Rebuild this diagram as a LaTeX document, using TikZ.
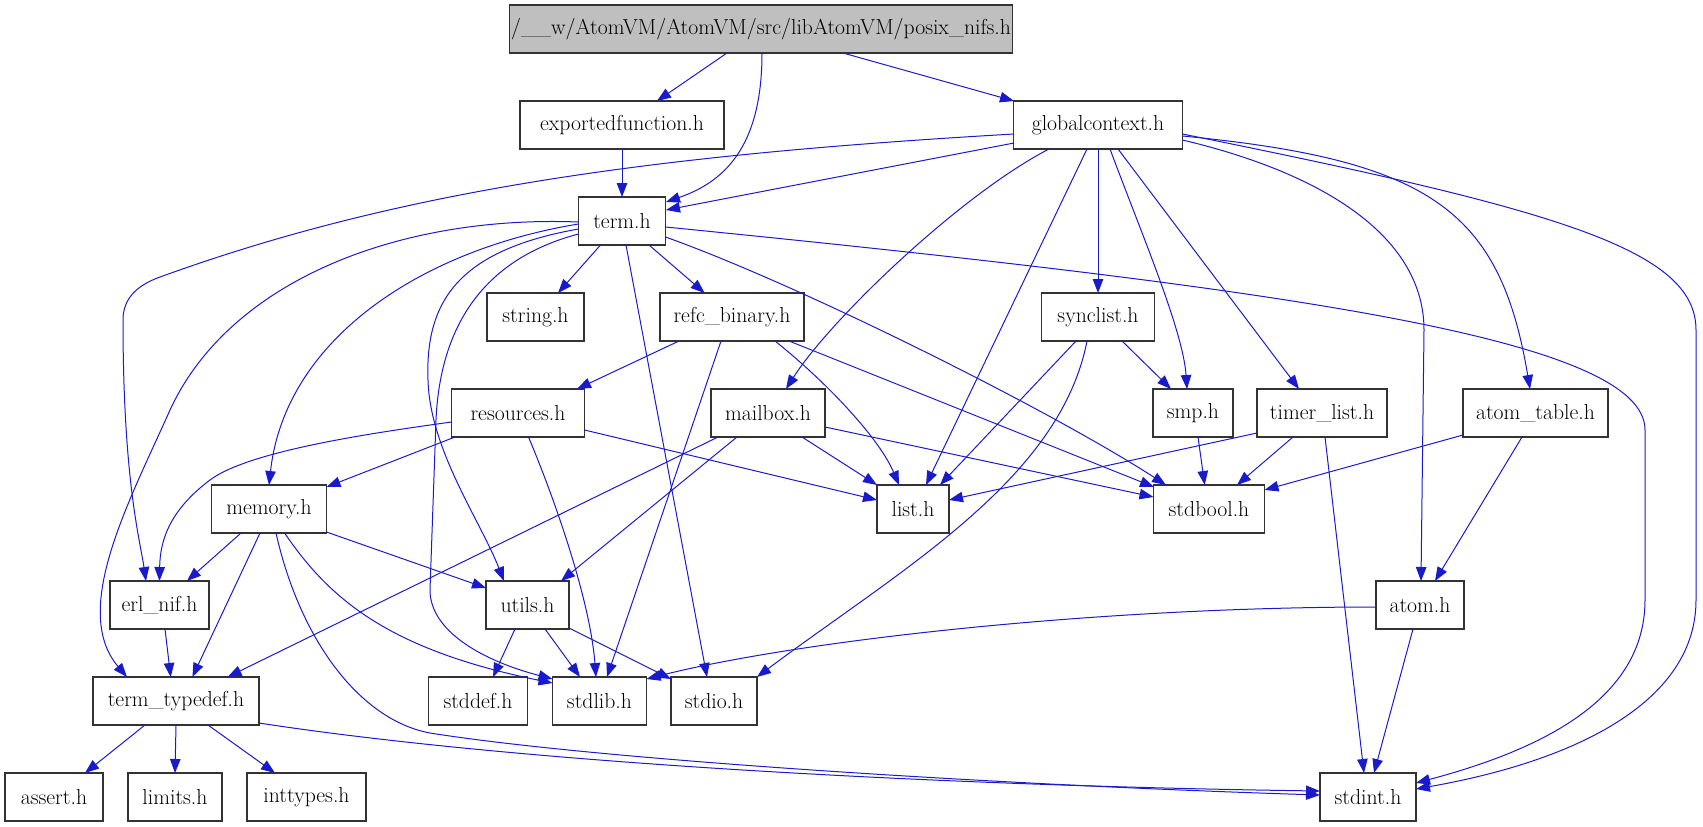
\documentclass[tikz,border=0pt]{standalone}
\usetikzlibrary{arrows.meta,calc}
\definecolor{edgeblue}{RGB}{26,26,205}
\definecolor{topgray}{RGB}{191,191,191}
\begin{document}
\begin{tikzpicture}[x=1pt,y=-1pt,
  box/.style={draw=black!80,line width=1.1pt,fill=white,minimum height=48pt,inner sep=0pt,anchor=center,font=\fontsize{21.7}{26}\selectfont},
  dep/.style={draw=edgeblue,line width=1pt,-{Triangle[length=14pt,width=10.5pt]}}]
\useasboundingbox (0,0) rectangle (1703,827);
% nodes
\node[box,fill=topgray,minimum width=503pt] (posix) at (761,29) {/\_\_w/AtomVM/AtomVM/src/libAtomVM/posix\_nifs.h};
\node[box,minimum width=204pt] (expf) at (622,125) {exportedfunction.h};
\node[box,minimum width=169pt] (gctx) at (1098,125) {globalcontext.h};
\node[box,minimum width=87pt] (term) at (622,221) {term.h};
\node[box,minimum width=97pt] (strh) at (535.5,317) {string.h};
\node[box,minimum width=144pt] (refc) at (732,317) {refc\_binary.h};
\node[box,minimum width=113pt] (sync) at (1098,317) {synclist.h};
\node[box,minimum width=133pt] (res) at (518,413) {resources.h};
\node[box,minimum width=114pt] (mbox) at (768,413) {mailbox.h};
\node[box,minimum width=80pt] (smp) at (1193,413) {smp.h};
\node[box,minimum width=130pt] (timer) at (1322,413) {timer\_list.h};
\node[box,minimum width=145pt] (atab) at (1535.5,413) {atom\_table.h};
\node[box,minimum width=115pt] (mem) at (269,509) {memory.h};
\node[box,minimum width=72pt] (list) at (913,509) {list.h};
\node[box,minimum width=111pt] (sbool) at (1209,509) {stdbool.h};
\node[box,minimum width=99pt] (erlnif) at (159.5,605) {erl\_nif.h};
\node[box,minimum width=83pt] (utils) at (527.5,605) {utils.h};
\node[box,minimum width=88pt] (atom) at (1420,605) {atom.h};
\node[box,minimum width=166pt] (ttd) at (176,701) {term\_typedef.h};
\node[box,minimum width=99pt] (sdef) at (478,701) {stddef.h};
\node[box,minimum width=94pt] (slib) at (599.5,701) {stdlib.h};
\node[box,minimum width=86pt] (sio) at (714,701) {stdio.h};
\node[box,minimum width=98pt] (assrt) at (54,797) {assert.h};
\node[box,minimum width=94pt] (lim) at (175,797) {limits.h};
\node[box,minimum width=119pt] (intt) at (306.5,797) {inttypes.h};
\node[box,minimum width=96pt] (sint) at (1368,797) {stdint.h};
% edges from posix_nifs.h
\draw[dep] ($(posix)+(-34,24)$) -- ($(expf)+(35,-24)$);
\draw[dep] ($(posix)+(1,24)$) .. controls (762,140) and (730,180) .. ($(term)+(44,-19)$);
\draw[dep] ($(posix)+(82,24)$) -- ($(gctx)+(-84,-24)$);
% exportedfunction
\draw[dep] ($(expf)+(0,24)$) -- ($(term)+(0,-24)$);
% globalcontext
\draw[dep] ($(gctx)+(-84,18)$) -- ($(term)+(44,-11)$);
\draw[dep] ($(gctx)+(-84,9)$) .. controls (650,155) and (400,190) .. (160,277) .. controls (135,286) and (123,300) .. (123,320) .. controls (123,480) and (140,540) .. ($(erlnif)+(-13.5,-24)$);
\draw[dep] ($(gctx)+(-11,24)$) -- ($(list)+(13,-24)$);
\draw[dep] ($(gctx)+(-49,24)$) .. controls (960,195) and (830,320) .. ($(mbox)+(18,-24)$);
\draw[dep] ($(gctx)+(0,24)$) -- ($(sync)+(0,-24)$);
\draw[dep] ($(gctx)+(12,24)$) .. controls (1140,230) and (1183,330) .. ($(smp)+(-6,-24)$);
\draw[dep] ($(gctx)+(20,24)$) -- ($(timer)+(-23,-24)$);
\draw[dep] ($(gctx)+(84.5,15)$) .. controls (1330,175) and (1424,240) .. (1424,330) -- ($(atom)+(1,-24)$);
\draw[dep] ($(gctx)+(84.5,11)$) .. controls (1430,160) and (1500,210) .. ($(atab)+(-5.5,-24)$);
\draw[dep] ($(gctx)+(84.5,9)$) .. controls (1560,210) and (1696,250) .. (1696,330) -- (1696,600) .. controls (1696,700) and (1580,760) .. ($(sint)+(48,-8)$);
% term.h
\draw[dep] ($(term)+(43.5,6)$) .. controls (1300,290) and (1645,340) .. (1645,430) -- (1645,600) .. controls (1645,700) and (1540,750) .. ($(sint)+(48,-14)$);
\draw[dep] ($(term)+(-21.5,24)$) -- ($(strh)+(22.5,-24)$);
\draw[dep] ($(term)+(27,24)$) -- ($(refc)+(-27.4,-24)$);
\draw[dep] ($(term)+(-43.5,3)$) .. controls (420,250) and (285,340) .. ($(mem)+(0,-24)$);
\draw[dep] ($(term)+(-43.5,1)$) .. controls (400,215) and (230,280) .. (170,410) .. controls (130,500) and (70,610) .. ($(ttd)+(-49,-24)$);
\draw[dep] ($(term)+(-43.5,8)$) .. controls (460,250) and (425,300) .. (428,380) .. controls (430,450) and (480,520) .. ($(utils)+(-23.5,-24)$);
\draw[dep] ($(term)+(-43.5,13)$) .. controls (480,260) and (440,330) .. (436,420) -- (430,590) .. controls (430,630) and (480,660) .. ($(slib)+(-47,-22)$);
\draw[dep] ($(term)+(4,24)$) -- ($(sio)+(-7,-24)$);
\draw[dep] ($(term)+(43.5,16)$) .. controls (800,285) and (1050,410) .. ($(sbool)+(-43,-24)$);
% refc_binary.h
\draw[dep] ($(refc)+(-53,24)$) -- ($(res)+(59,-24)$);
\draw[dep] ($(refc)+(-11,24)$) -- ($(slib)+(7.5,-24)$);
\draw[dep] ($(refc)+(43,24)$) .. controls (830,385) and (880,440) .. ($(list)+(-14,-24)$);
\draw[dep] ($(refc)+(57,24)$) -- ($(sbool)+(-55,-22)$);
% resources.h
\draw[dep] ($(res)+(-63,24)$) -- ($(mem)+(57.5,-22)$);
\draw[dep] ($(res)+(-66.5,9)$) .. controls (380,432) and (250,450) .. (210,480) .. controls (170,510) and (160,540) .. ($(erlnif)+(0,-24)$);
\draw[dep] ($(res)+(10.5,24)$) .. controls (555,500) and (590,600) .. ($(slib)+(-3.5,-24)$);
\draw[dep] ($(res)+(66.5,17)$) -- ($(list)+(-36,-9)$);
% mailbox.h
\draw[dep] ($(mbox)+(34,24)$) -- ($(list)+(-36,-24)$);
\draw[dep] ($(mbox)+(57,14)$) -- ($(sbool)+(-55.5,-12)$);
\draw[dep] ($(mbox)+(-50,24)$) -- ($(ttd)+(51.6,-24)$);
\draw[dep] ($(mbox)+(-31,24)$) -- ($(utils)+(33.5,-24)$);
% smp, timer_list, atom_table
\draw[dep] ($(smp)+(5,24)$) -- ($(sbool)+(-4.3,-24)$);
\draw[dep] ($(timer)+(-65,20)$) -- ($(list)+(36,-9)$);
\draw[dep] ($(timer)+(-29,24)$) -- ($(sbool)+(28,-24)$);
\draw[dep] ($(timer)+(3,24)$) -- ($(sint)+(-4,-24)$);
\draw[dep] ($(atab)+(-72.5,22)$) -- ($(sbool)+(55.5,-19)$);
\draw[dep] ($(atab)+(-13.5,24)$) -- ($(atom)+(15,-24)$);
% atom.h
\draw[dep] ($(atom)+(-44,2)$) .. controls (1100,607) and (800,640) .. ($(slib)+(47,-22)$);
\draw[dep] ($(atom)+(-7,24)$) -- ($(sint)+(6,-24)$);
% memory.h
\draw[dep] ($(mem)+(-28,24)$) -- ($(erlnif)+(27.5,-24)$);
\draw[dep] ($(mem)+(-9,24)$) -- ($(ttd)+(16.4,-24)$);
\draw[dep] ($(mem)+(57.5,23)$) -- ($(utils)+(-41.5,-17)$);
\draw[dep] ($(mem)+(15.6,24)$) .. controls (330,600) and (390,650) .. ($(slib)+(-47,-18)$);
\draw[dep] ($(mem)+(7,24)$) .. controls (300,640) and (360,720) .. (430,733) .. controls (600,760) and (1000,785) .. ($(sint)+(-48,-2)$);
% term_typedef.h
\draw[dep] ($(ttd)+(83,22)$) .. controls (500,760) and (900,785) .. ($(sint)+(-48,-6)$);
\draw[dep] ($(ttd)+(-31,24)$) -- ($(assrt)+(31,-24)$);
\draw[dep] ($(ttd)+(0,24)$) -- ($(lim)+(0,-24)$);
\draw[dep] ($(ttd)+(32,24)$) -- ($(intt)+(-31.5,-24)$);
% erl_nif.h, utils.h
\draw[dep] ($(erlnif)+(5.5,24)$) -- ($(ttd)+(-5.3,-24)$);
\draw[dep] ($(utils)+(-12.5,24)$) -- ($(sdef)+(15,-24)$);
\draw[dep] ($(utils)+(17.5,24)$) -- ($(slib)+(-19.5,-24)$);
\draw[dep] ($(utils)+(41.5,23)$) -- ($(sio)+(-43,-22)$);
% synclist.h
\draw[dep] ($(sync)+(24,24)$) -- ($(smp)+(-22,-24)$);
\draw[dep] ($(sync)+(-22,24)$) -- ($(list)+(27,-24)$);
\draw[dep] ($(sync)+(-11,24)$) .. controls (1060,480) and (900,570) .. ($(sio)+(43,-24)$);
\end{tikzpicture}
\end{document}
